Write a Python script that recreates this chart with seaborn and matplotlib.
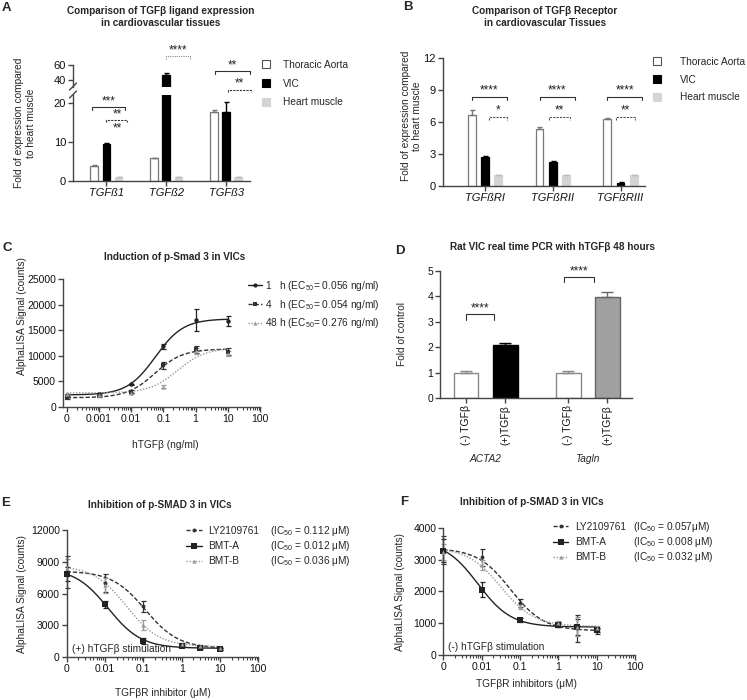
import numpy as np
import pandas as pd
import seaborn as sns
import matplotlib.pyplot as plt
import matplotlib.transforms as mtransforms
from matplotlib import ticker
from matplotlib.lines import Line2D

# ---------------- data ----------------
# A: TGFß ligand expression, fold vs heart muscle
tissues = ["Thoracic Aorta", "VIC", "Heart muscle"]
ligands = ["TGFß1", "TGFß2", "TGFß3"]
lig_aorta = [3.9, 5.8, 17.9]
lig_aorta_err = [0.15, 0.2, 0.5]
lig_vic = [9.4, 47.0, 17.7]
lig_vic_err = [0.3, 3.0, 2.8]
lig_heart = [1.0, 1.0, 1.0]
lig_heart_err = [0.08, 0.08, 0.08]

# B: TGFß receptor expression
receptors = ["TGFßRI", "TGFßRII", "TGFßRIII"]
rec_aorta = [6.7, 5.35, 6.25]
rec_aorta_err = [0.4, 0.2, 0.12]
rec_vic = [2.7, 2.2, 0.3]
rec_vic_err = [0.12, 0.1, 0.04]
rec_heart = [1.0, 1.0, 1.0]
rec_heart_err = [0.04, 0.04, 0.04]

# C: induction of p-Smad 3 (AlphaLISA counts)
c_dose = [0, 0.001, 0.01, 0.1, 1, 10]
c_labels = ["1   h (EC$_{50}$= 0.056 ng/ml)", "4   h (EC$_{50}$= 0.054 ng/ml)",
            "48 h (EC$_{50}$= 0.276 ng/ml)"]
c_1h = [2200, 2450, 4350, 11800, 17000, 16800]
c_1h_err = [250, 300, 150, 450, 2200, 1000]
c_4h = [1800, 2100, 2900, 8100, 11200, 10800]
c_4h_err = [200, 250, 300, 700, 700, 750]
c_48h = [2400, 2300, 2750, 3900, 10900, 10400]
c_48h_err = [150, 150, 200, 300, 500, 500]
# fitted 4PL parameters (EC50 from the legend, plateaus)
c_ec50 = [0.056, 0.054, 0.276]
c_bottom = [2300, 1750, 2700]
c_top = [17200, 11300, 11500]

# D: real time PCR, fold of control
pcr_genes = ["ACTA2", "Tagln"]
pcr_treat = ["(-) TGFβ", "(+)TGFβ"]
pcr_minus = [1.0, 1.0]
pcr_minus_err = [0.07, 0.08]
pcr_plus = [2.08, 3.95]
pcr_plus_err = [0.07, 0.2]

# E / F: inhibition of p-SMAD 3
inhibitors = ["LY2109761", "BMT-A", "BMT-B"]
inh_dose = [0, 0.01, 0.1, 1, 3, 10]
e_ly = [8060, 7000, 4800, 1200, 950, 800]
e_ly_err = [1500, 850, 550, 150, 120, 80]
e_a = [7850, 5000, 1550, 1050, 880, 800]
e_a_err = [700, 350, 250, 100, 100, 80]
e_b = [8450, 6800, 3050, 1250, 1050, 900]
e_b_err = [800, 700, 450, 120, 120, 80]
e_ic50 = [0.112, 0.012, 0.036]
e_top = [8130, 8420, 8650]
e_bottom = [850, 850, 1000]
e_ic_labels = ["(IC$_{50}$ = 0.112 μM)", "(IC$_{50}$ = 0.012 μM)", "(IC$_{50}$ = 0.036 μM)"]

f_ly = [3300, 3070, 1630, 970, 840, 740]
f_ly_err = [450, 270, 120, 80, 420, 80]
f_a = [3280, 2050, 1100, 930, 870, 790]
f_a_err = [350, 230, 60, 60, 250, 60]
f_b = [3250, 2830, 1540, 1000, 890, 840]
f_b_err = [250, 150, 100, 80, 300, 80]
f_ic50 = [0.057, 0.008, 0.032]
f_top = [3355, 3590, 3375]
f_bottom = [760, 880, 900]
f_ic_labels = ["(IC$_{50}$ = 0.057μM)", "(IC$_{50}$ = 0.008 μM)", "(IC$_{50}$ = 0.032 μM)"]

# ---------------- style ----------------
sns.set_style("ticks")
plt.rcParams["font.family"] = ["Liberation Sans", "DejaVu Sans"]
plt.rcParams["mathtext.fontset"] = "custom"
plt.rcParams["mathtext.rm"] = "Liberation Sans"
plt.rcParams["mathtext.it"] = "Liberation Sans:italic"
plt.rcParams["mathtext.bf"] = "Liberation Sans:bold"

AX = "#444444"
TICK = 7.5
LAB = 7.3
STAR = 8.5
W, H = 747, 700
fig = plt.figure(figsize=(W / 100, H / 100), dpi=100)


def add_ax(l, t, r, b):
    # axes box given in pixels of the 747x700 canvas
    return fig.add_axes([l / W, 1 - b / H, (r - l) / W, (b - t) / H])


def ftext(x, y, s, **kw):
    kw.setdefault("ha", "center")
    kw.setdefault("va", "center")
    fig.text(x / W, 1 - y / H, s, **kw)


def style(ax, size=TICK):
    sns.despine(ax=ax)
    for s in ("left", "bottom"):
        ax.spines[s].set_color(AX)
        ax.spines[s].set_linewidth(1.0)
    ax.tick_params(which="major", direction="out", length=3.5, width=1.0,
                   color=AX, labelsize=size, pad=1.5, labelcolor="#111")
    ax.set_xlabel("")
    ax.set_ylabel("")


def bracket(ax, x0, x1, y, h, label, ls="-", color="#333", below=None):
    ax.plot([x0, x0, x1, x1], [y - h, y, y, y - h], ls=ls, color=color, lw=0.8,
            clip_on=False)
    ax.text((x0 + x1) / 2, y, label, ha="center", va="bottom", fontsize=STAR,
            color="#222", clip_on=False)
    if below:
        ax.text((x0 + x1) / 2, y - 0.6, below, ha="center", va="top", fontsize=STAR,
                color="#222", clip_on=False)


def grouped_bars(ax, df, order, palette, edges, errs, width, gap, capsize):
    sns.barplot(data=df, x="gene", y="fold", hue="tissue", order=order,
                hue_order=tissues, palette=palette, width=width, gap=gap,
                errorbar=None, saturation=1, legend=False, ax=ax, linewidth=0.9)
    for cont, ec, err in zip(ax.containers, edges, errs):
        for bar, e in zip(cont, err):
            bar.set_edgecolor(ec)
            xc = bar.get_x() + bar.get_width() / 2
            ax.errorbar(xc, bar.get_height(), yerr=[[0], [e]], fmt="none",
                        ecolor=ec if ec != "#d4d4d4" else "#bbbbbb",
                        elinewidth=1.0, capsize=capsize, capthick=1.0)


tissue_fill = {"Thoracic Aorta": "white", "VIC": "black", "Heart muscle": "#d4d4d4"}
tissue_edge = ["#777777", "black", "#d4d4d4"]

# ---------------- A (broken y axis) ----------------
lig_df = pd.DataFrame({
    "gene": ligands * 3,
    "tissue": np.repeat(tissues, 3),
    "fold": lig_aorta + lig_vic + lig_heart,
})
lig_errs = [lig_aorta_err, lig_vic_err, lig_heart_err]
axA_top = add_ax(73, 65, 250, 87)
axA = add_ax(73, 95, 250, 180.7)
for ax in (axA_top, axA):
    grouped_bars(ax, lig_df, ligands, tissue_fill, tissue_edge, lig_errs, 0.61, 0.37, 1.8)
    style(ax, 8)
    ax.set_xlim(-0.56, 2.4)
axA_top.set_ylim(30.7, 60)
axA_top.set_yticks([40, 60])
axA_top.spines["bottom"].set_visible(False)
axA_top.tick_params(axis="x", bottom=False, labelbottom=False)
axA.set_ylim(0, 22.2)
axA.set_yticks([0, 10, 20])
for lab in axA.get_xticklabels():
    lab.set_fontstyle("italic")
for y0 in (90, 98):
    fig.add_artist(Line2D([69.5 / W, 76.5 / W], [1 - y0 / H, 1 - (y0 - 7) / H],
                          color=AX, lw=1.0, transform=fig.transFigure))

# significance marks (lower-axes units)
bracket(axA, -0.25, 0.317, 19.0, 0.7, "***")
bracket(axA, 0.0, 0.35, 15.7, 0.5, "**", ls=(0, (2, 1)), below="**")
bracket(axA, 1.0, 1.39, 32.2, 0.6, "****", ls=(0, (1, 1)), color="#888")
bracket(axA, 1.82, 2.4, 28.3, 0.7, "**")
bracket(axA, 2.04, 2.41, 23.6, 0.5, "**", ls=(0, (2, 1)))

ftext(161, 17, "Comparison of TGFβ ligand expression\nin cardiovascular tissues",
      fontsize=7.2, fontweight="bold", linespacing=1.25)
ftext(25, 123, "Fold of expression compared\nto heart muscle", fontsize=LAB,
      rotation=90, linespacing=1.2)
ftext(6, 8, "A", fontsize=9.5, fontweight="bold")


def square_legend(x, y, pad, spacing):
    handles = [Line2D([], [], marker="s", ls="none", ms=5.2, mfc=tissue_fill[t],
                      mec=e if t != "Thoracic Aorta" else "#555", mew=0.8)
               for t, e in zip(tissues, tissue_edge)]
    fig.legend(handles, tissues, loc="upper left", bbox_to_anchor=(x / W, 1 - y / H),
               frameon=False, fontsize=LAB, handlelength=1.0, handletextpad=pad,
               labelspacing=spacing, borderpad=0, borderaxespad=0)


square_legend(261, 60, 1.2, 0.85)

# ---------------- B ----------------
rec_df = pd.DataFrame({
    "gene": receptors * 3,
    "tissue": np.repeat(tissues, 3),
    "fold": rec_aorta + rec_vic + rec_heart,
})
rec_errs = [rec_aorta_err, rec_vic_err, rec_heart_err]
axB = add_ax(443, 58.3, 645, 185.7)
grouped_bars(axB, rec_df, receptors, tissue_fill, tissue_edge, rec_errs, 0.59, 0.42, 1.8)
style(axB, 8)
axB.set_xlim(-0.62, 2.36)
axB.set_ylim(0, 12)
axB.set_yticks([0, 3, 6, 9, 12])
for lab in axB.get_xticklabels():
    lab.set_fontstyle("italic")
rec_dash = [(0.06, 0.33, "*"), (-0.06, 0.26, "**"), (-0.07, 0.21, "**")]
for i, (d0, d1, star) in enumerate(rec_dash):
    bracket(axB, i - 0.196, i + 0.32, 8.4, 0.35, "****")
    bracket(axB, i + d0, i + d1, 6.5, 0.3, star, ls=(0, (2, 1)), color="#555")

ftext(545, 17, "Comparison of TGFβ Receptor\nin cardiovascular Tissues",
      fontsize=7.2, fontweight="bold", linespacing=1.25)
ftext(411.5, 116, "Fold of expression compared\nto heart muscle", fontsize=LAB,
      rotation=90, linespacing=1.2)
ftext(408, 7, "B", fontsize=9.5, fontweight="bold")
square_legend(652, 57, 1.8, 0.75)


# ---------------- dose response helpers ----------------
def log_axis(ax, left, zero_pos, labels):
    ax.set_xscale("log")
    ax.set_xlim(left, 100)
    majors = [zero_pos * 10 ** k for k in range(len(labels))]
    ax.xaxis.set_major_locator(ticker.FixedLocator(majors))
    ax.xaxis.set_major_formatter(ticker.FixedFormatter(labels))
    minors = [m * v for v in majors[:-1] for m in range(2, 10)]
    ax.xaxis.set_minor_locator(ticker.FixedLocator(minors))
    ax.xaxis.set_minor_formatter(ticker.NullFormatter())
    ax.tick_params(axis="x", which="minor", direction="out", length=2.2, width=0.8,
                   color=AX)


def dose_panel(ax, dose, zero_pos, values, errs, bottoms, tops, mids, styles, rising):
    xs = [zero_pos if d == 0 else d for d in dose]
    grid = np.geomspace(zero_pos, max(dose), 200)
    for vals, err, b, t, m, st in zip(values, errs, bottoms, tops, mids, styles):
        ratio = m / grid if rising else grid / m
        sns.lineplot(x=grid, y=b + (t - b) / (1 + ratio), ax=ax, color=st["color"],
                     lw=1.0, linestyle=st["ls"], errorbar=None)
        ax.errorbar(xs, vals, yerr=err, fmt="none", ecolor=st["color"],
                    elinewidth=0.9, capsize=1.8, capthick=0.9, clip_on=False)
        sns.scatterplot(x=xs, y=vals, ax=ax, marker=st["marker"], s=st["s"],
                        color=st["color"], edgecolor=st["color"], linewidth=0,
                        clip_on=False, zorder=3)


def dose_legend(x, y, names, styles, hlen, pad, spacing):
    handles = [Line2D([], [], color=st["color"], lw=1.0, ls=st["ls"], marker=st["marker"],
                      ms=st["ms"], mew=0) for st in styles]
    return fig.legend(handles, names, loc="upper left", bbox_to_anchor=(x / W, 1 - y / H),
                      frameon=False, fontsize=LAB, handlelength=hlen, handletextpad=pad,
                      labelspacing=spacing, borderpad=0, borderaxespad=0)


c_styles = [
    {"color": "#222222", "ls": "-", "marker": "o", "s": 10, "ms": 3},
    {"color": "#333333", "ls": (0, (3, 1.5)), "marker": "s", "s": 10, "ms": 3},
    {"color": "#999999", "ls": (0, (1, 1.2)), "marker": "^", "s": 10, "ms": 3},
]
inh_styles = [
    {"color": "#333333", "ls": (0, (3, 1.5)), "marker": "o", "s": 8, "ms": 2.8},
    {"color": "#222222", "ls": "-", "marker": "s", "s": 14, "ms": 3.8},
    {"color": "#999999", "ls": (0, (1, 1.2)), "marker": "^", "s": 9, "ms": 3},
]

# ---------------- C ----------------
axC = add_ax(63, 279, 260, 406.7)
dose_panel(axC, c_dose, 1e-4, [c_1h, c_4h, c_48h], [c_1h_err, c_4h_err, c_48h_err],
           c_bottom, c_top, c_ec50, c_styles, True)
style(axC)
log_axis(axC, 7.6e-5, 1e-4, ["0", "0.001", "0.01", "0.1", "1", "10", "100"])
axC.set_ylim(0, 25000)
axC.set_yticks(range(0, 25001, 5000))
dose_legend(248, 279, c_labels, c_styles, 1.4, 0.3, 0.45)
ftext(175, 256.7, "Induction of p-Smad 3 in VICs", fontsize=7.2, fontweight="bold")
ftext(22, 316, "AlphaLISA Signal (counts)", fontsize=LAB, rotation=90)
ftext(165, 445, "hTGFβ (ng/ml)", fontsize=LAB)
ftext(7, 248, "C", fontsize=9.5, fontweight="bold")

# ---------------- D ----------------
pcr_df = pd.DataFrame({
    "gene": pcr_genes * 2,
    "treatment": np.repeat(pcr_treat, 2),
    "fold": pcr_minus + pcr_plus,
})
axD = add_ax(440, 270.7, 631.7, 398)
sns.barplot(data=pcr_df, x="gene", y="fold", hue="treatment", order=pcr_genes,
            hue_order=pcr_treat, palette={pcr_treat[0]: "white", pcr_treat[1]: "black"},
            width=0.765, gap=0.36, errorbar=None, saturation=1, legend=False, ax=axD,
            linewidth=1.0)
style(axD)
pcr_face = [["white", "white"], ["black", "#a0a0a0"]]
pcr_edge = [["#888888", "#888888"], ["black", "#666666"]]
centers, tick_labels = [], []
for j, (cont, errs) in enumerate(zip(axD.containers, [pcr_minus_err, pcr_plus_err])):
    for i, (bar, e) in enumerate(zip(cont, errs)):
        bar.set_facecolor(pcr_face[j][i])
        bar.set_edgecolor(pcr_edge[j][i])
        xc = bar.get_x() + bar.get_width() / 2
        centers.append(xc)
        tick_labels.append(pcr_treat[j])
        axD.errorbar(xc, bar.get_height(), yerr=[[0], [e]], fmt="none",
                     ecolor=pcr_edge[j][i], elinewidth=1.0, capsize=4.2, capthick=1.0)
axD.set_xticks(centers)
axD.set_xticklabels(tick_labels, rotation=90)
axD.set_xlim(-0.446, 1.433)
axD.set_ylim(0, 5)
axD.set_yticks(range(6))
blend = mtransforms.blended_transform_factory(axD.transData, axD.transAxes)
for i, g in enumerate(pcr_genes):
    axD.text(i, -0.479, g, transform=blend, ha="center", va="center", fontsize=LAB,
             fontstyle="italic")
bracket(axD, -0.191, 0.083, 3.3, 0.24, "****")
bracket(axD, 0.77, 1.064, 4.74, 0.17, "****")
ftext(552, 247, "Rat VIC real time PCR with hTGFβ 48 hours", fontsize=7.2,
      fontweight="bold")
ftext(402, 334, "Fold of control", fontsize=LAB, rotation=90)
ftext(400, 251, "D", fontsize=9.5, fontweight="bold")

# ---------------- E ----------------
axE = add_ax(66.7, 530, 258.3, 657.3)
dose_panel(axE, inh_dose, 1e-3, [e_ly, e_a, e_b], [e_ly_err, e_a_err, e_b_err],
           e_bottom, e_top, e_ic50, inh_styles, False)
style(axE)
log_axis(axE, 1e-3, 1e-3, ["0", "0.01", "0.1", "1", "10", "100"])
axE.set_ylim(0, 12000)
axE.set_yticks(range(0, 12001, 3000))
legE = dose_legend(186, 526, inhibitors, inh_styles, 1.6, 0.6, 0.5)
ftext(160, 505, "Inhibition of p-SMAD 3 in VICs", fontsize=7.2, fontweight="bold")
ftext(22, 594, "AlphaLISA Signal (counts)", fontsize=LAB, rotation=90)
ftext(162.5, 693, "TGFβR inhibitor (μM)", fontsize=LAB)
ftext(71.7, 649, "(+) hTGFβ stimulation", fontsize=LAB, ha="left")
ftext(6, 503, "E", fontsize=9.5, fontweight="bold")

# ---------------- F ----------------
axF = add_ax(443.3, 527.7, 635, 655)
dose_panel(axF, inh_dose, 1e-3, [f_ly, f_a, f_b], [f_ly_err, f_a_err, f_b_err],
           f_bottom, f_top, f_ic50, inh_styles, False)
style(axF)
log_axis(axF, 1e-3, 1e-3, ["0", "0.01", "0.1", "1", "10", "100"])
axF.set_ylim(0, 4000)
axF.set_yticks(range(0, 4001, 1000))
legF = dose_legend(553, 522, inhibitors, inh_styles, 1.5, 0.7, 0.5)
ftext(531.7, 502, "Inhibition of p-SMAD 3 in VICs", fontsize=7.2, fontweight="bold")
ftext(400, 592, "AlphaLISA Signal (counts)", fontsize=LAB, rotation=90)
ftext(526.7, 684, "TGFβR inhibitors (μM)", fontsize=LAB)
ftext(448, 646.7, "(-) hTGFβ stimulation", fontsize=LAB, ha="left")
ftext(404, 502, "F", fontsize=9.5, fontweight="bold")

# IC50 column lined up with the legend rows
fig.canvas.draw()
for leg, x_ic, labels in ((legE, 270, e_ic_labels), (legF, 633, f_ic_labels)):
    for txt, lab in zip(leg.get_texts(), labels):
        bb = txt.get_window_extent()
        yc = (bb.y0 + bb.y1) / 2 / fig.bbox.height
        fig.text(x_ic / W, yc, lab, ha="left", va="center", fontsize=LAB)

fig.savefig("out.png", dpi=100)
